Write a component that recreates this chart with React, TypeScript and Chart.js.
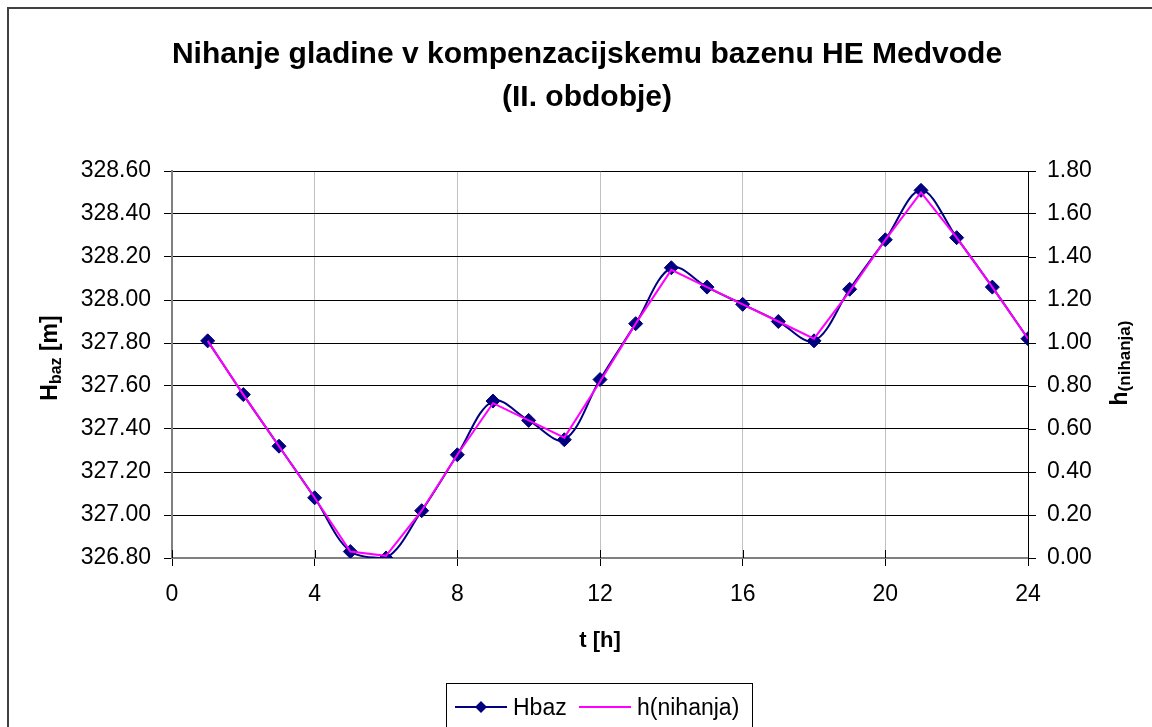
import React, { useEffect, useRef } from "react";
import { Chart, registerables } from "chart.js";

Chart.register(...registerables);

// ---- data ----
const hours = [1, 2, 3, 4, 5, 6, 7, 8, 9, 10, 11, 12, 13, 14, 15, 16, 17, 18, 19, 20, 21, 22, 23, 24];
const hbazValues = [
  327.81, 327.56, 327.32, 327.08, 326.83, 326.8, 327.02, 327.28, 327.53, 327.44, 327.35, 327.63,
  327.89, 328.15, 328.06, 327.98, 327.9, 327.81, 328.05, 328.28, 328.51, 328.29, 328.06, 327.82,
];
const hNihanjaValues = [
  1.01, 0.76, 0.52, 0.28, 0.03, 0.01, 0.22, 0.48, 0.72, 0.64, 0.56, 0.82,
  1.09, 1.34, 1.26, 1.18, 1.1, 1.02, 1.24, 1.48, 1.7, 1.49, 1.26, 1.02,
];
const xRange = { min: 0, max: 24, step: 4 };
const leftRange = { min: 326.8, max: 328.6, step: 0.2 };
const rightRange = { min: 0, max: 1.8, step: 0.2 };
const titleLines = ["Nihanje gladine v kompenzacijskemu bazenu HE Medvode", "(II. obdobje)"];
const xTitle = "t [h]";
const leftTitle = { main: "H", sub: "baz", rest: " [m]" };
const rightTitle = { main: "h", sub: "(nihanja)" };
const seriesNames = ["Hbaz", "h(nihanja)"];

const FONT = "'Liberation Sans', Arial, Helvetica, sans-serif";
const NAVY = "#000080";
const MAGENTA = "#FF00FF";

const decorPlugin = {
  id: "decor",
  beforeDraw(chart: any) {
    const ctx = chart.ctx as CanvasRenderingContext2D;
    ctx.save();
    ctx.fillStyle = "#ffffff";
    ctx.fillRect(0, 0, chart.width, chart.height);
    ctx.restore();
  },
  beforeDatasetsDraw(chart: any) {
    // inner half of the x-axis tick marks (ticks cross the axis)
    const ctx = chart.ctx as CanvasRenderingContext2D;
    const xs = chart.scales.x;
    const bottom = chart.chartArea.bottom;
    ctx.save();
    ctx.strokeStyle = "#000";
    ctx.lineWidth = 1;
    xs.ticks.forEach((t: any) => {
      const px = Math.round(xs.getPixelForValue(t.value)) + 0.5;
      ctx.beginPath();
      ctx.moveTo(px, bottom - 8);
      ctx.lineTo(px, bottom);
      ctx.stroke();
    });
    ctx.restore();
  },
  afterDraw(chart: any) {
    const ctx = chart.ctx as CanvasRenderingContext2D;
    ctx.save();
    // outer chart border
    ctx.strokeStyle = "#404040";
    ctx.lineWidth = 2;
    ctx.strokeRect(8, 8, 1300, 900);

    // title
    ctx.fillStyle = "#000";
    ctx.textAlign = "center";
    ctx.textBaseline = "alphabetic";
    ctx.font = `bold 30px ${FONT}`;
    ctx.fillText(titleLines[0], 587, 63);
    ctx.fillText(titleLines[1], 587, 106);

    // x axis title
    ctx.font = `bold 22px ${FONT}`;
    ctx.fillText(xTitle, 600, 647);

    const drawRotated = (cx: number, cy: number, parts: { t: string; font: string; dy: number }[]) => {
      ctx.save();
      ctx.translate(cx, cy);
      ctx.rotate(-Math.PI / 2);
      ctx.textAlign = "left";
      let total = 0;
      for (const p of parts) {
        ctx.font = p.font;
        total += ctx.measureText(p.t).width;
      }
      let x = -total / 2;
      for (const p of parts) {
        ctx.font = p.font;
        ctx.fillText(p.t, x, p.dy);
        x += ctx.measureText(p.t).width;
      }
      ctx.restore();
    };
    drawRotated(57, 358, [
      { t: leftTitle.main, font: `bold 23px ${FONT}`, dy: 0 },
      { t: leftTitle.sub, font: `bold 16px ${FONT}`, dy: 4 },
      { t: leftTitle.rest, font: `bold 23px ${FONT}`, dy: 0 },
    ]);
    drawRotated(1127, 363, [
      { t: rightTitle.main, font: `bold 23px ${FONT}`, dy: 0 },
      { t: rightTitle.sub, font: `bold 17px ${FONT}`, dy: 3 },
    ]);

    // legend
    ctx.strokeStyle = "#000";
    ctx.lineWidth = 1;
    ctx.strokeRect(446.5, 683.5, 306, 100);
    const ly = 707;
    ctx.strokeStyle = NAVY;
    ctx.lineWidth = 2;
    ctx.beginPath();
    ctx.moveTo(455, ly);
    ctx.lineTo(507, ly);
    ctx.stroke();
    ctx.fillStyle = NAVY;
    ctx.beginPath();
    ctx.moveTo(481, ly - 6);
    ctx.lineTo(487, ly);
    ctx.lineTo(481, ly + 6);
    ctx.lineTo(475, ly);
    ctx.closePath();
    ctx.fill();
    ctx.strokeStyle = MAGENTA;
    ctx.beginPath();
    ctx.moveTo(579, ly);
    ctx.lineTo(631, ly);
    ctx.stroke();
    ctx.fillStyle = "#000";
    ctx.font = `23px ${FONT}`;
    ctx.textAlign = "left";
    ctx.fillText(seriesNames[0], 513, 715);
    ctx.fillText(seriesNames[1], 637, 715);
    ctx.restore();
  },
};

export default function App() {
  const canvasRef = useRef<HTMLCanvasElement | null>(null);

  useEffect(() => {
    document.body.style.margin = "0";
    document.documentElement.style.overflow = "hidden";
    const canvas = canvasRef.current;
    if (!canvas) return;
    const chart = new Chart(canvas, {
      type: "line",
      data: {
        datasets: [
          {
            label: seriesNames[0],
            data: hours.map((h, i) => ({ x: h, y: hbazValues[i] })),
            yAxisID: "y",
            borderColor: NAVY,
            backgroundColor: NAVY,
            borderWidth: 2,
            tension: 0.35,
            pointStyle: "rectRot",
            pointRadius: 7,
            pointBackgroundColor: NAVY,
            pointBorderColor: NAVY,
            pointBorderWidth: 1,
            order: 1,
          },
          {
            label: seriesNames[1],
            data: hours.map((h, i) => ({ x: h, y: hNihanjaValues[i] })),
            yAxisID: "y1",
            borderColor: MAGENTA,
            backgroundColor: MAGENTA,
            borderWidth: 2,
            tension: 0,
            pointRadius: 0,
            order: 0,
          },
        ],
      },
      options: {
        responsive: false,
        animation: false,
        devicePixelRatio: 1,
        layout: { autoPadding: false, padding: { top: 171, left: 0, right: 0, bottom: 0 } },
        plugins: { legend: { display: false }, title: { display: false }, tooltip: { enabled: false } },
        scales: {
          x: {
            type: "linear",
            min: xRange.min,
            max: xRange.max,
            ticks: {
              stepSize: xRange.step,
              padding: 15,
              color: "#000",
              font: { family: FONT, size: 23 },
              maxRotation: 0,
            },
            grid: {
              color: (c: any) => (c.tick && c.tick.value === 0 ? "rgba(0,0,0,0)" : "#c0c0c0"),
              tickColor: "#000",
              tickLength: 8,
              lineWidth: 1,
            },
            border: { color: "#808080", width: 2 },
            afterFit: (s: any) => {
              s.height = 169;
            },
          },
          y: {
            type: "linear",
            position: "left",
            min: leftRange.min,
            max: leftRange.max,
            ticks: {
              stepSize: leftRange.step,
              padding: 13,
              color: "#000",
              font: { family: FONT, size: 23 },
              callback: (v: any) => Number(v).toFixed(2),
            },
            grid: { color: "#000", tickColor: "#000", tickLength: 8, lineWidth: 1 },
            border: { color: "#808080", width: 2 },
            afterFit: (s: any) => {
              s.width = 172;
            },
          },
          y1: {
            type: "linear",
            position: "right",
            min: rightRange.min,
            max: rightRange.max,
            ticks: {
              stepSize: rightRange.step,
              padding: 11,
              color: "#000",
              font: { family: FONT, size: 23 },
              callback: (v: any) => Number(v).toFixed(2),
            },
            grid: { drawOnChartArea: false, color: "#000", tickColor: "#000", tickLength: 8 },
            border: { color: "#000", width: 1 },
            afterFit: (s: any) => {
              s.width = 124;
            },
          },
        },
      },
      plugins: [decorPlugin],
    } as any);
    return () => chart.destroy();
  }, []);

  return (
    <div style={{ width: 1152, height: 727, overflow: "hidden" }}>
      <canvas ref={canvasRef} width={1152} height={727} style={{ display: "block" }} />
    </div>
  );
}
